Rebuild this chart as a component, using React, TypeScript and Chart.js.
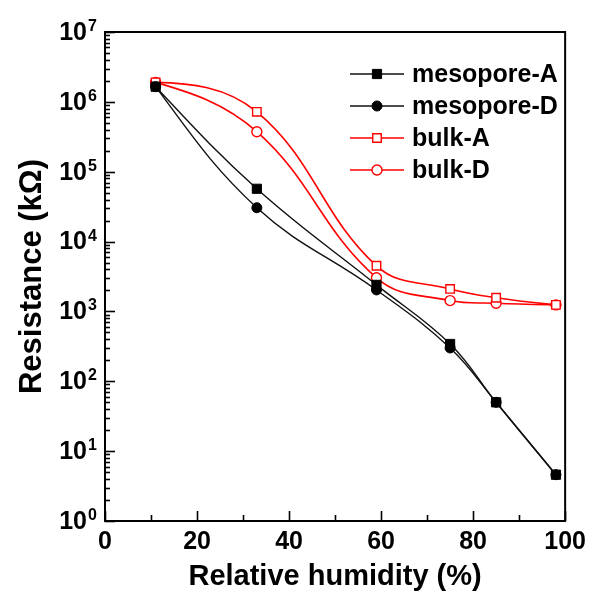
import React, { useEffect, useRef } from 'react';
import { Chart, registerables } from 'chart.js';

Chart.register(...registerables);

const humidity = [11, 33, 59, 75, 85, 98];
const mesoporeA = [1.65e6, 5.7e4, 2.4e3, 342, 50, 4.6];
const mesoporeD = [1.65e6, 3.05e4, 2.03e3, 300, 50, 4.6];
const bulkA = [1.9e6, 7.2e5, 4.5e3, 2.1e3, 1.57e3, 1.24e3];
const bulkD = [1.9e6, 3.74e5, 3.03e3, 1.43e3, 1.31e3, 1.24e3];
const seriesNames = ['mesopore-A', 'mesopore-D', 'bulk-A', 'bulk-D'];
const xTickValues = [0, 20, 40, 60, 80, 100];
const yExponents = [0, 1, 2, 3, 4, 5, 6, 7];

const FONT = '"Liberation Sans", Arial, Helvetica, sans-serif';

const toPoints = (ys: number[]) => humidity.map((x, i) => ({ x, y: ys[i] }));

// Natural-spline style end tangents for the smoothed lines (shape only).
const endTangentPlugin = {
  id: 'endTangents',
  beforeDatasetsDraw(chart: any) {
    chart.data.datasets.forEach((_: any, i: number) => {
      const meta = chart.getDatasetMeta(i);
      const line = meta.dataset;
      const pts = meta.data;
      if (!line || pts.length < 3) return;
      line.updateControlPoints(chart.chartArea, 'x');
      const n = pts.length;
      // start
      {
        const p0 = pts[0], p1 = pts[1];
        const dx = p1.x - p0.x;
        const sec = (p1.y - p0.y) / dx;
        const tdx = p1.x - p1.cp1x;
        const m1 = Math.abs(tdx) > 1e-6 ? (p1.y - p1.cp1y) / tdx : sec;
        const m0 = 1.5 * sec - 0.5 * m1;
        p0.cp2x = p0.x + dx / 3;
        p0.cp2y = p0.y + (m0 * dx) / 3;
      }
      // end
      {
        const pa = pts[n - 2], pb = pts[n - 1];
        const dx = pb.x - pa.x;
        const sec = (pb.y - pa.y) / dx;
        const tdx = pa.cp2x - pa.x;
        const ma = Math.abs(tdx) > 1e-6 ? (pa.cp2y - pa.y) / tdx : sec;
        const mb = 1.5 * sec - 0.5 * ma;
        pb.cp1x = pb.x - dx / 3;
        pb.cp1y = pb.y - (mb * dx) / 3;
      }
      line._path = undefined;
    });
  },
};

const decoPlugin = {
  id: 'deco',
  afterDatasetsDraw(chart: any) {
    const { ctx, chartArea, scales } = chart;
    const { left, right, top, bottom } = chartArea;
    const x = scales.x;
    const y = scales.y;
    ctx.save();
    ctx.strokeStyle = '#000';
    ctx.lineWidth = 2;
    ctx.strokeRect(left, top, right - left, bottom - top);
    ctx.lineWidth = 1.6;
    // x inward ticks
    for (let v = 0; v <= 100; v += 10) {
      const px = Math.round(x.getPixelForValue(v)) + 0.5;
      const len = xTickValues.includes(v) ? 10 : 6;
      ctx.beginPath();
      ctx.moveTo(px, bottom);
      ctx.lineTo(px, bottom - len);
      ctx.stroke();
    }
    // y inward ticks
    for (const e of yExponents) {
      for (let m = 1; m <= 9; m++) {
        if (e === 7 && m > 1) break;
        const v = m * Math.pow(10, e);
        const py = Math.round(y.getPixelForValue(v)) + 0.5;
        const len = m === 1 ? 10 : 5;
        ctx.beginPath();
        ctx.moveTo(left, py);
        ctx.lineTo(left + len, py);
        ctx.stroke();
      }
    }
    // y tick labels with superscript exponents
    ctx.fillStyle = '#000';
    for (const e of yExponents) {
      const py = y.getPixelForValue(Math.pow(10, e));
      ctx.font = `bold 25px ${FONT}`;
      ctx.textAlign = 'right';
      ctx.textBaseline = 'middle';
      ctx.fillText('10', left - 18, py + 1);
      ctx.font = `bold 16px ${FONT}`;
      ctx.textAlign = 'left';
      ctx.textBaseline = 'alphabetic';
      ctx.fillText(String(e), left - 17, py - 1);
    }
    // legend
    const lx0 = 350, lx1 = 404, lmx = 377, tx = 412, ly0 = 74, dy = 32;
    chart.data.datasets.forEach((ds: any, i: number) => {
      const ly = ly0 + i * dy;
      ctx.strokeStyle = ds.borderColor;
      ctx.lineWidth = ds.borderWidth;
      ctx.beginPath();
      ctx.moveTo(lx0, ly);
      ctx.lineTo(lx1, ly);
      ctx.stroke();
      ctx.fillStyle = ds.pointBackgroundColor;
      ctx.strokeStyle = ds.pointBorderColor;
      ctx.lineWidth = ds.pointBorderWidth;
      ctx.beginPath();
      if (ds.pointStyle === 'rect') {
        const s = ds.pointRadius * Math.SQRT1_2;
        ctx.rect(lmx - s, ly - s, 2 * s, 2 * s);
      } else {
        ctx.arc(lmx, ly, ds.pointRadius, 0, Math.PI * 2);
      }
      ctx.fill();
      ctx.stroke();
      ctx.fillStyle = '#000';
      ctx.font = `bold 25px ${FONT}`;
      ctx.textAlign = 'left';
      ctx.textBaseline = 'middle';
      ctx.fillText(ds.label, tx, ly + 1);
    });
    ctx.restore();
  },
};

export default function App() {
  const ref = useRef<HTMLCanvasElement>(null);
  useEffect(() => {
    if (!ref.current) return;
    const black = '#111111';
    const red = '#ff0000';
    const chart = new Chart(ref.current, {
      type: 'line',
      data: {
        datasets: [
          {
            label: seriesNames[0],
            data: toPoints(mesoporeA),
            borderColor: black,
            borderWidth: 1.4,
            pointStyle: 'rect',
            pointRadius: 6.5,
            pointBackgroundColor: '#000',
            pointBorderColor: '#000',
            pointBorderWidth: 1,
            tension: 0.4,
          },
          {
            label: seriesNames[1],
            data: toPoints(mesoporeD),
            borderColor: black,
            borderWidth: 1.4,
            pointStyle: 'circle',
            pointRadius: 5,
            pointBackgroundColor: '#000',
            pointBorderColor: '#000',
            pointBorderWidth: 1,
            tension: 0.4,
          },
          {
            label: seriesNames[2],
            data: toPoints(bulkA),
            borderColor: red,
            borderWidth: 1.6,
            pointStyle: 'rect',
            pointRadius: 6,
            pointBackgroundColor: '#fff',
            pointBorderColor: red,
            pointBorderWidth: 1.4,
            tension: 0.4,
          },
          {
            label: seriesNames[3],
            data: toPoints(bulkD),
            borderColor: red,
            borderWidth: 1.6,
            pointStyle: 'circle',
            pointRadius: 5,
            pointBackgroundColor: '#fff',
            pointBorderColor: red,
            pointBorderWidth: 1.4,
            tension: 0.4,
          },
        ],
      },
      options: {
        animation: false,
        responsive: false,
        layout: { padding: { top: 32, right: 22, left: 0, bottom: 0 } },
        plugins: { legend: { display: false }, tooltip: { enabled: false } },
        scales: {
          x: {
            type: 'linear',
            min: 0,
            max: 100,
            afterFit: (s: any) => { s.height = 73; },
            afterBuildTicks: (s: any) => { s.ticks = xTickValues.map((v) => ({ value: v })); },
            grid: { display: false, drawTicks: false },
            border: { display: false },
            ticks: {
              color: '#000',
              font: { family: FONT, size: 25, weight: 'bold' },
              padding: 6,
              maxRotation: 0,
              autoSkip: false,
            },
            title: {
              display: true,
              text: 'Relative humidity (%)',
              color: '#000',
              font: { family: FONT, size: 29, weight: 'bold' },
              padding: { top: 0, bottom: 0 },
            },
          },
          y: {
            type: 'logarithmic',
            min: 1,
            max: 1e7,
            afterFit: (s: any) => { s.width = 105; },
            grid: { display: false, drawTicks: false },
            border: { display: false },
            ticks: { display: false },
            title: {
              display: true,
              text: 'Resistance (kΩ)',
              color: '#000',
              font: { family: FONT, size: 31, weight: 'bold' },
              padding: { top: 14, bottom: 0 },
            },
          },
        },
      },
      plugins: [endTangentPlugin, decoPlugin],
    } as any);
    return () => chart.destroy();
  }, []);
  return (
    <div style={{ position: 'fixed', left: 0, top: 0, width: 592, height: 594, background: '#fff' }}>
      <canvas ref={ref} width={592} height={594} style={{ display: 'block' }} />
    </div>
  );
}
